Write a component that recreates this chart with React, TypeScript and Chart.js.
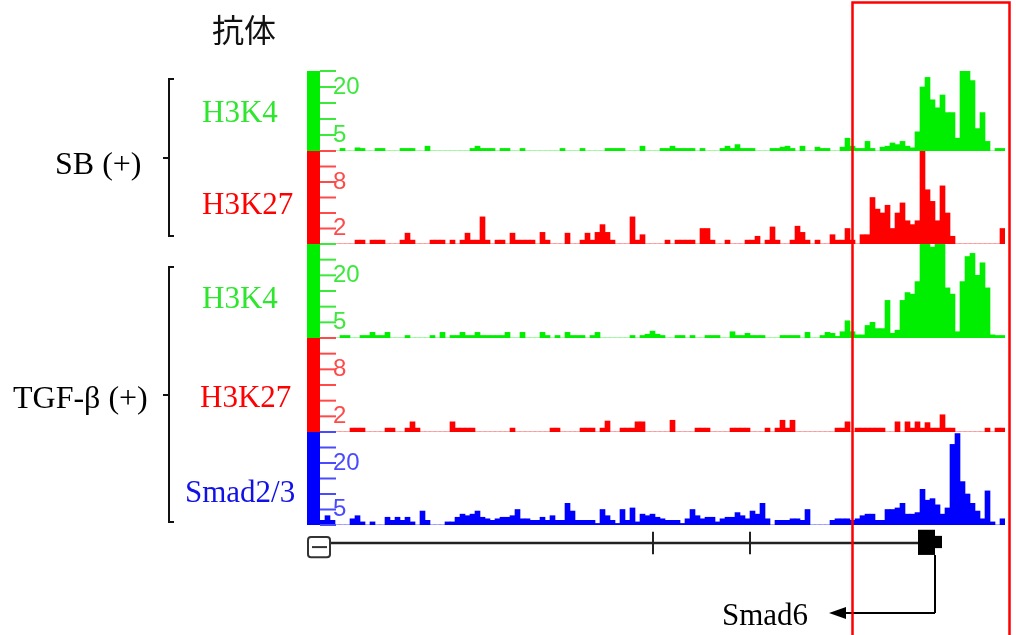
import React, { useEffect, useRef } from 'react';
import { Chart, registerables } from 'chart.js';

Chart.register(...registerables);

// ---- Signal values per 5-px genomic bin (137 bins across the browser window) ----
const SB_H3K4 = [
  0, 0, 0, 0, 0.8, 0, 0, 1, 0.8, 0,
  0, 0.8, 0.8, 0, 0, 0, 0.8, 0.8, 0.8, 0,
  0, 1.5, 0, 0, 0, 0, 0, 0, 0, 0,
  0.8, 1.5, 0.8, 0.8, 0.8, 0, 0.8, 0.8, 0, 0,
  0.8, 0, 0, 0, 0, 0, 0, 0, 0.8, 0,
  0, 0, 0.8, 0, 0, 0, 0, 0.8, 0.8, 0.8,
  0.8, 0, 0, 0, 1.5, 0, 0, 0, 0.8, 0.8,
  1.5, 0.8, 0.8, 0.8, 0.8, 0, 0.8, 0, 0, 0,
  0.8, 1.5, 0.8, 2, 0.8, 0.8, 0.8, 0, 0, 0,
  0.8, 0.8, 1.2, 1.5, 0.8, 0, 1.5, 0, 0, 1.2,
  0.8, 0.8, 0, 0, 1.2, 4, 1.5, 0.8, 0.8, 3,
  0.8, 0, 1.2, 1.5, 2.5, 2, 3, 1.5, 1, 6,
  20, 23, 16, 13.5, 17.5, 12, 12, 4, 25, 25,
  22, 7, 12, 3, 0, 0.8, 0.8,
];
const SB_H3K27 = [
  0, 0, 0, 0, 0, 0, 0, 0.5, 0.5, 0,
  0.5, 0.5, 0.5, 0, 0, 0, 0.5, 1.4, 0.5, 0,
  0, 0, 0.5, 0.5, 0.5, 0, 0.5, 0, 0.5, 1.4,
  0.5, 0.5, 3.5, 0.5, 0, 0.5, 0.5, 0, 1.4, 0.5,
  0.5, 0.5, 0.5, 0, 1.5, 0.5, 0, 0, 0, 1.4,
  0, 0, 0.5, 1.4, 0.5, 1.5, 2.5, 1.5, 0.5, 0,
  0, 0, 3.5, 0.5, 1.2, 0, 0, 0, 0, 0.5,
  0, 0.5, 0.5, 0.5, 0.5, 0, 2, 2, 0.5, 0,
  0, 0.5, 0, 0, 0, 0.5, 0.5, 1, 0, 0.5,
  2.2, 0.5, 0, 0, 0.5, 2.3, 1.5, 0.5, 0, 0.5,
  0, 0, 1.2, 0.5, 0.5, 2, 0.5, 0, 1.2, 1.2,
  6, 4.5, 4, 5, 2, 4, 5.3, 3, 2.5, 3,
  12, 7, 5.5, 3, 7.5, 4, 1, 0, 0, 0,
  0, 0, 0, 0, 0, 0, 2,
];
const TGF_H3K4 = [
  0, 0, 0, 0, 0.8, 0.8, 0, 0, 0.8, 0.8,
  1.8, 0.8, 0.8, 1.8, 0, 0, 0, 0.8, 0, 0,
  0, 0, 0.8, 0, 1.8, 0, 0.8, 0.8, 1.8, 0.8,
  0.8, 1.8, 0.8, 0.8, 0.8, 0.8, 0.8, 1.8, 0, 0,
  1.8, 0, 0, 0, 1.8, 0.8, 0, 0.8, 0, 1.8,
  0.8, 0.8, 0.8, 0, 0.8, 1.8, 0, 0, 0, 0,
  0, 0, 0.8, 0, 0.8, 1.2, 2.2, 1.2, 0.8, 0,
  0, 0.8, 0.8, 0, 0.8, 0, 0, 0.8, 0.8, 0.8,
  0, 0, 2, 0.8, 0.8, 1.5, 0.8, 0.8, 0.8, 0,
  0, 0, 0.8, 0.8, 0.8, 0.8, 0, 1.8, 0, 0,
  0.8, 1.8, 1.5, 0.5, 2, 5.5, 2, 1, 1, 4,
  5, 3, 3, 12, 1.5, 2.5, 12, 14.5, 14, 18,
  30, 30, 29, 30, 30, 16, 14, 2, 18, 26,
  27, 20, 24, 16, 1, 0.8, 0.8,
];
const TGF_H3K27 = [
  0, 0, 0, 0, 0, 0, 0.5, 0.5, 0.5, 0,
  0, 0, 0, 0.5, 0.5, 0, 0, 0.5, 1.3, 0.5,
  0, 0, 0, 0, 0, 0, 1.3, 0.5, 0.5, 0.5,
  0.5, 0, 0, 0, 0, 0, 0, 0, 0.5, 0,
  0, 0, 0, 0, 0, 0, 0.5, 0.5, 0, 0,
  0, 0, 0.5, 0.5, 0.5, 0, 0.5, 1.4, 0, 0,
  0.5, 0.5, 0.5, 1.3, 1.3, 0, 0, 0, 0, 0,
  1.5, 0, 0, 0, 0, 0.5, 0.5, 0.5, 0, 0,
  0, 0, 0.5, 0.5, 0.5, 0.5, 0, 0, 0, 0.5,
  0, 0.5, 1.5, 0.5, 1.5, 0, 0, 0, 0, 0,
  0, 0, 0, 0.5, 0.5, 1.3, 0, 0.5, 0.5, 0.5,
  0.5, 0.5, 0.5, 0, 0, 1.3, 0, 1.3, 0.5, 1.3,
  0.5, 1.2, 0.5, 0.5, 2.2, 0.5, 0.5, 0, 0, 0,
  0, 0, 0, 0.5, 0, 0.5, 0.5,
];
const TGF_SMAD23 = [
  1.5, 3, 1.5, 0, 0, 0, 2, 3, 1, 0,
  1, 0, 0, 2.5, 1.5, 2.5, 1.5, 2.5, 1, 0,
  4.5, 1.5, 0, 0, 0, 1, 1, 2.5, 3.5, 3,
  3.5, 4.5, 2.5, 2, 1.5, 2, 2.5, 2.5, 3, 5,
  2, 2, 1.5, 1.5, 2.5, 1.5, 3, 1.5, 1.5, 7,
  4.5, 1.5, 1.5, 1.5, 1.5, 0.5, 5, 3, 1.5, 0.5,
  5, 1.5, 5.5, 1, 3.5, 3, 3.5, 2.5, 2, 1.5,
  1.5, 1.5, 0.5, 2, 5, 3, 2, 2.5, 2.5, 1,
  2, 2.5, 2.5, 4, 3, 2, 4.5, 3.5, 7, 2,
  0, 1.5, 1.5, 1.5, 2, 2, 1.5, 5, 0, 0,
  0, 0, 1.5, 2, 2, 2, 1.5, 2, 3, 3.5,
  3.5, 1.5, 1.5, 5, 5, 5.5, 7, 3.5, 3.5, 4,
  11.5, 8, 8.5, 6.5, 3.5, 5.5, 26, 29.5, 14, 10,
  7, 4.5, 2, 11, 1, 0, 2,
];

// ---- Axis ranges and tick labels ----
const K4_TICK_LABELS = [5, 20];
const K27_TICK_LABELS = [2, 8];

// ---- Gene model / annotations, in bin-edge units ----
const RULER_START = 2;
const RULER_TICK_BINS = [66.6, 86];
const GENE_EXON = [119.6, 123];
const GENE_UTR = [123, 124.4];
const HIGHLIGHT_BINS = [106.5, 137.9];

const GREEN = '#00ee00';
const RED = '#ff0000';
const BLUE = '#0000ff';

const TRACKS = [
  { id: 'sbK4', data: SB_H3K4, color: GREEN, tick: '#3ce83c', max: 25, step: 5, labels: K4_TICK_LABELS, h: 80 },
  { id: 'sbK27', data: SB_H3K27, color: RED, tick: '#ff4a4a', max: 12, step: 2, labels: K27_TICK_LABELS, h: 93 },
  { id: 'tgfK4', data: TGF_H3K4, color: GREEN, tick: '#3ce83c', max: 30, step: 5, labels: K4_TICK_LABELS, h: 94 },
  { id: 'tgfK27', data: TGF_H3K27, color: RED, tick: '#ff4a4a', max: 12, step: 2, labels: K27_TICK_LABELS, h: 94 },
  { id: 'smad', data: TGF_SMAD23, color: BLUE, tick: '#4a4aff', max: 30, step: 5, labels: K4_TICK_LABELS, h: 93 },
];

const SERIF = '"Liberation Serif", "Times New Roman", serif';
const LABELS = [
  { text: 'SB (+)', left: 55, top: 147, color: '#000', size: 32 },
  { text: 'TGF-β (+)', left: 13, top: 381, color: '#000', size: 32 },
  { text: 'H3K4', left: 202, top: 96, color: '#2ee62e', size: 31 },
  { text: 'H3K27', left: 202, top: 188, color: '#ff0000', size: 31 },
  { text: 'H3K4', left: 202, top: 282, color: '#2ee62e', size: 31 },
  { text: 'H3K27', left: 200, top: 381, color: '#ff0000', size: 31 },
  { text: 'Smad2/3', left: 185, top: 476, color: '#1010e8', size: 31 },
  { text: 'Smad6', left: 722, top: 599, color: '#000', size: 31 },
];

const overlayPlugin = {
  id: 'overlay',
  afterDraw(chart: any) {
    const { ctx } = chart;
    const xs = chart.scales.x;
    const ex = (e: number) => xs.getPixelForValue(e - 0.5);
    const line = (x1: number, y1: number, x2: number, y2: number) => {
      ctx.beginPath();
      ctx.moveTo(x1, y1);
      ctx.lineTo(x2, y2);
      ctx.stroke();
    };
    ctx.save();
    // track tick marks
    TRACKS.forEach((t) => {
      const s = chart.scales[t.id];
      ctx.strokeStyle = t.tick;
      ctx.lineWidth = 2;
      s.ticks.forEach((tk: any) => {
        const y = s.getPixelForValue(tk.value);
        line(s.right, y, s.right + 16, y);
      });
    });
    // gene model
    const g = chart.scales.gene;
    ctx.strokeStyle = '#222';
    ctx.lineWidth = 2.5;
    const ry = g.getPixelForValue(0.47);
    line(ex(RULER_START), ry, ex(GENE_EXON[0]), ry);
    ctx.lineWidth = 2;
    RULER_TICK_BINS.forEach((b) => line(ex(b), g.getPixelForValue(0.8), ex(b), g.getPixelForValue(0.14)));
    ctx.fillStyle = '#000';
    const eTop = g.getPixelForValue(0.86);
    const eBot = g.getPixelForValue(0.12);
    ctx.fillRect(ex(GENE_EXON[0]), eTop, ex(GENE_EXON[1]) - ex(GENE_EXON[0]), eBot - eTop);
    const uTop = g.getPixelForValue(0.68);
    const uBot = g.getPixelForValue(0.32);
    ctx.fillRect(ex(GENE_UTR[0]), uTop, ex(GENE_UTR[1]) - ex(GENE_UTR[0]), uBot - uTop);
    // collapse button
    ctx.strokeStyle = '#333';
    ctx.lineWidth = 2;
    ctx.beginPath();
    (ctx as any).roundRect(308, g.getPixelForValue(0.65), 22, g.getPixelForValue(0.05) - g.getPixelForValue(0.65), 3);
    ctx.stroke();
    line(312, g.getPixelForValue(0.35), 327, g.getPixelForValue(0.35));
    // gene name arrow
    ctx.strokeStyle = '#000';
    ctx.fillStyle = '#000';
    ctx.lineWidth = 2;
    const ax = ex(GENE_EXON[1]);
    const ay = 613;
    line(ax, eBot, ax, ay);
    line(ax, ay, 844, ay);
    ctx.beginPath();
    ctx.moveTo(829, ay);
    ctx.lineTo(846, ay - 6);
    ctx.lineTo(846, ay + 6);
    ctx.closePath();
    ctx.fill();
    // brackets
    ctx.strokeStyle = '#111';
    ctx.lineWidth = 2;
    const bracket = (top: number, bottom: number, mid: number) => {
      ctx.beginPath();
      ctx.moveTo(174, top);
      ctx.lineTo(169, top);
      ctx.lineTo(169, bottom);
      ctx.lineTo(174, bottom);
      ctx.stroke();
      line(163, mid, 169, mid);
    };
    bracket(79, 236, 158);
    bracket(267, 522, 395);
    // highlight box
    ctx.strokeStyle = '#ff0000';
    ctx.lineWidth = 2.5;
    const hx1 = ex(HIGHLIGHT_BINS[0]);
    const hx2 = ex(HIGHLIGHT_BINS[1]);
    ctx.strokeRect(hx1, 2.5, hx2 - hx1, 700);
    ctx.restore();
  },
};

export default function App() {
  const ref = useRef<HTMLCanvasElement | null>(null);
  useEffect(() => {
    if (!ref.current) return;
    const scales: any = {
      x: { type: 'category', display: false, offset: true },
    };
    TRACKS.forEach((t, k) => {
      scales[t.id] = {
        type: 'linear',
        position: 'left',
        stack: 'tracks',
        stackWeight: t.h,
        weight: 20 - k,
        min: 0,
        max: t.max,
        backgroundColor: t.color,
        grid: { display: false },
        border: { display: false },
        ticks: {
          stepSize: t.step,
          autoSkip: false,
          mirror: true,
          padding: 13,
          color: t.tick,
          font: { family: '"Liberation Sans", Arial, sans-serif', size: 24 },
          callback: (v: any) => (t.labels.includes(Number(v)) ? String(v) : ''),
        },
        afterFit: (s: any) => {
          s.width = 13;
        },
      };
    });
    scales.gene = {
      type: 'linear',
      position: 'left',
      stack: 'tracks',
      stackWeight: 34,
      weight: 1,
      min: 0,
      max: 1,
      grid: { display: false },
      border: { display: false },
      ticks: { display: false },
      afterFit: (s: any) => {
        s.width = 13;
      },
    };
    const chart = new Chart(ref.current, {
      type: 'bar',
      data: {
        labels: SB_H3K4.map((_, i) => String(i)),
        datasets: TRACKS.map((t) => ({
          label: t.id,
          data: t.data,
          yAxisID: t.id,
          xAxisID: 'x',
          backgroundColor: t.color,
          borderWidth: 0,
          barPercentage: 1,
          categoryPercentage: 1,
          grouped: false,
        })),
      },
      options: {
        animation: false,
        responsive: false,
        devicePixelRatio: 1,
        layout: { padding: { left: 307, right: 11, top: 71, bottom: 76 } },
        plugins: { legend: { display: false }, tooltip: { enabled: false }, title: { display: false } },
        scales,
      } as any,
      plugins: [overlayPlugin],
    });
    return () => chart.destroy();
  }, []);

  return (
    <div style={{ position: 'absolute', left: 0, top: 0, width: 1016, height: 635, background: '#fff', overflow: 'hidden' }}>
      <canvas ref={ref} width={1016} height={635} style={{ position: 'absolute', left: 0, top: 0 }} />
      <div
        style={{
          position: 'absolute', left: 212, top: 12, fontFamily: '"Noto Sans CJK JP", "Noto Sans CJK SC", sans-serif',
          fontSize: 32, lineHeight: 1, color: '#111', whiteSpace: 'nowrap',
        }}
      >
        抗体
      </div>
      {LABELS.map((l, i) => (
        <div
          key={i}
          style={{
            position: 'absolute', left: l.left, top: l.top, fontFamily: SERIF, fontSize: l.size, lineHeight: 1,
            color: l.color, whiteSpace: 'nowrap',
          }}
        >
          {l.text}
        </div>
      ))}
    </div>
  );
}
